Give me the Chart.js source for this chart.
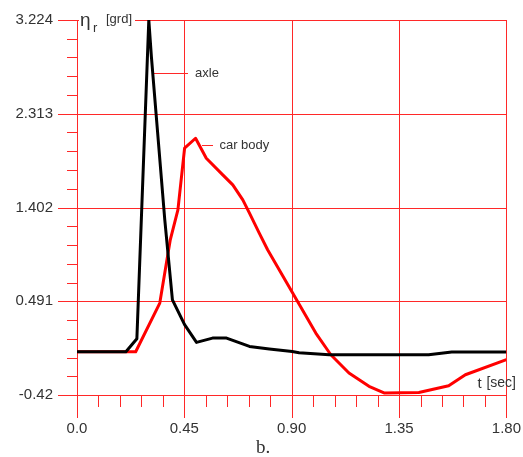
<!DOCTYPE html>
<html lang="en">
<head>
    <meta charset="UTF-8">
    <title>Axle and car body response</title>
    <style>
        html, body {
            margin: 0;
            padding: 0;
            background: #fff;
        }

        #chart {
            display: block;
        }
    </style>
</head>
<body>
    <canvas id="chart" width="523" height="457"></canvas>

    <script src="https://cdn.jsdelivr.net/npm/chart.js"></script>
    <script>
        // tick values and labels
        const yTicks = [-0.42, 0.491, 1.402, 2.313, 3.224];
        const yTickLabels = ['-0.42', '0.491', '1.402', '2.313', '3.224'];
        const xTicks = [0, 0.45, 0.9, 1.35, 1.8];
        const xTickLabels = ['0.0', '0.45', '0.90', '1.35', '1.80'];

        // axle (black)
        const axleT = [0, 0.205, 0.251, 0.301, 0.312, 0.368, 0.40, 0.451, 0.501, 0.568, 0.627, 0.723, 0.806, 0.902, 0.931, 1.057, 1.474, 1.571, 1.80];
        const axleV = [0, 0, 0.127, 3.224, 2.864, 1.282, 0.505, 0.263, 0.091, 0.133, 0.133, 0.052, 0.027, 0.003, -0.009, -0.029, -0.029, -0.003, -0.003];

        // car body (red)
        const bodyT = [0, 0.246, 0.347, 0.391, 0.423, 0.451, 0.497, 0.542, 0.611, 0.653, 0.695, 0.723, 0.764, 0.799, 0.904, 1.001, 1.064, 1.14, 1.224, 1.287, 1.433, 1.558, 1.628, 1.80];
        const bodyV = [0, 0, 0.473, 1.088, 1.379, 1.978, 2.075, 1.881, 1.719, 1.622, 1.476, 1.347, 1.153, 0.991, 0.57, 0.182, -0.029, -0.206, -0.336, -0.40, -0.395, -0.33, -0.223, -0.077];

        const gridRed = '#ff2828';
        const textColor = '#333';
        const sansFont = '"Liberation Sans", Arial, sans-serif';

        // curve labels with leader lines, in data units
        const curveLabels = [
            { text: 'axle', t0: 0.313, t1: 0.464, tText: 0.495, v: 2.709 },
            { text: 'car body', t0: 0.522, t1: 0.568, tText: 0.597, v: 2.01 }
        ];

        // grid, major and minor ticks drawn as crisp 1px rects
        const gridPlugin = {
            id: 'redGrid',
            beforeDatasetsDraw(chart) {
                const ctx = chart.ctx;
                const xs = chart.scales.x;
                const ys = chart.scales.y;
                const left = Math.round(xs.left);
                const right = Math.round(xs.right);
                const top = Math.round(ys.top);
                const bottom = Math.round(ys.bottom);

                ctx.save();
                ctx.fillStyle = gridRed;
                yTicks.forEach(v => {
                    const py = Math.round(ys.getPixelForValue(v));
                    ctx.fillRect(left - 19, py, right - left + 20, 1);
                });
                xTicks.forEach(v => {
                    const px = Math.round(xs.getPixelForValue(v));
                    ctx.fillRect(px, top, 1, bottom - top + 23);
                });
                for (let i = 0; i < yTicks.length - 1; i++) {
                    for (let k = 1; k < 5; k++) {
                        const v = yTicks[i] + (yTicks[i + 1] - yTicks[i]) * k / 5;
                        ctx.fillRect(left - 10, Math.round(ys.getPixelForValue(v)), 10, 1);
                    }
                }
                for (let i = 0; i < xTicks.length - 1; i++) {
                    for (let k = 1; k < 5; k++) {
                        const v = xTicks[i] + (xTicks[i + 1] - xTicks[i]) * k / 5;
                        ctx.fillRect(Math.round(xs.getPixelForValue(v)), bottom, 1, 12);
                    }
                }
                // leader lines
                curveLabels.forEach(l => {
                    const x0 = Math.round(xs.getPixelForValue(l.t0));
                    const x1 = Math.round(xs.getPixelForValue(l.t1));
                    ctx.fillRect(x0, Math.round(ys.getPixelForValue(l.v)), x1 - x0, 1);
                });
                ctx.restore();
            }
        };

        const textPlugin = {
            id: 'extraText',
            afterDraw(chart) {
                const ctx = chart.ctx;
                const xs = chart.scales.x;
                const ys = chart.scales.y;
                const left = xs.left;
                const top = ys.top;
                const bottom = ys.bottom;

                ctx.save();
                ctx.fillStyle = textColor;
                ctx.textBaseline = 'middle';
                ctx.font = '13px ' + sansFont;
                curveLabels.forEach(l => {
                    ctx.fillText(l.text, xs.getPixelForValue(l.tText), ys.getPixelForValue(l.v));
                });

                // y axis title sits over the top gridline
                ctx.fillStyle = '#fff';
                ctx.fillRect(left + 2, top - 4, 56, 8);
                ctx.fillStyle = textColor;
                ctx.textBaseline = 'alphabetic';
                ctx.font = '19px ' + sansFont;
                ctx.fillText('η', left + 3, top + 6);
                ctx.font = '13px ' + sansFont;
                ctx.fillText('r', left + 16, top + 12);
                ctx.fillText('[grd]', left + 29, top + 3);

                // x axis title
                ctx.font = '15px ' + sansFont;
                ctx.fillText('t', xs.right - 29, bottom - 7);
                ctx.font = '14px ' + sansFont;
                ctx.fillText('[sec]', xs.right - 20, bottom - 8);

                // caption
                ctx.font = '19px "Liberation Serif", "Times New Roman", serif';
                ctx.fillText('b.', 256, 453);
                ctx.restore();
            }
        };

        const chart = new Chart(document.getElementById('chart'), {
            type: 'line',
            data: {
                datasets: [
                    {
                        label: 'axle',
                        data: axleT.map((t, i) => ({ x: t, y: axleV[i] })),
                        borderColor: '#000',
                        borderWidth: 3,
                        pointRadius: 0,
                        tension: 0,
                        borderJoinStyle: 'round',
                        fill: false
                    },
                    {
                        label: 'car body',
                        data: bodyT.map((t, i) => ({ x: t, y: bodyV[i] })),
                        borderColor: '#ff0000',
                        borderWidth: 3,
                        pointRadius: 0,
                        tension: 0,
                        borderJoinStyle: 'round',
                        fill: false
                    }
                ]
            },
            options: {
                responsive: false,
                animation: false,
                devicePixelRatio: 1,
                layout: {
                    padding: { top: 20, right: 15, left: 0, bottom: 0 }
                },
                plugins: {
                    legend: { display: false },
                    tooltip: { enabled: false }
                },
                scales: {
                    x: {
                        type: 'linear',
                        min: 0,
                        max: 1.8,
                        afterBuildTicks: scale => {
                            scale.ticks = xTicks.map(v => ({ value: v }));
                        },
                        afterFit: scale => {
                            scale.height = 62;
                        },
                        ticks: {
                            callback: (value, index) => xTickLabels[index],
                            color: textColor,
                            font: { size: 15, family: sansFont },
                            maxRotation: 0,
                            autoSkip: false,
                            padding: 2
                        },
                        grid: {
                            display: false,
                            drawTicks: true,
                            tickLength: 23
                        },
                        border: { display: false }
                    },
                    y: {
                        type: 'linear',
                        min: -0.42,
                        max: 3.224,
                        afterBuildTicks: scale => {
                            scale.ticks = yTicks.map(v => ({ value: v }));
                        },
                        afterFit: scale => {
                            scale.width = 77;
                        },
                        ticks: {
                            callback: (value, index) => yTickLabels[index],
                            color: textColor,
                            font: { size: 15, family: sansFont },
                            autoSkip: false,
                            padding: 5
                        },
                        grid: {
                            display: false,
                            drawTicks: true,
                            tickLength: 19
                        },
                        border: { display: false }
                    }
                }
            },
            plugins: [gridPlugin, textPlugin]
        });
    </script>
</body>
</html>
